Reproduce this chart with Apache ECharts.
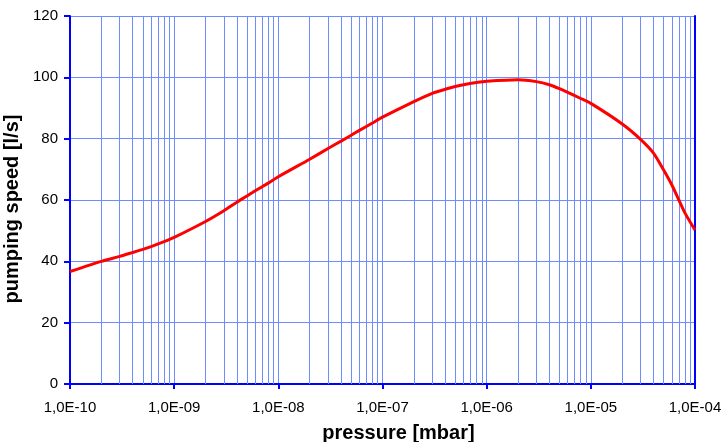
<!DOCTYPE html>
<html>
<head>
<meta charset="utf-8">
<script src="https://cdn.jsdelivr.net/npm/echarts@6/dist/echarts.min.js"></script>
<style>
  html, body { margin: 0; padding: 0; background: #fff; }
  #chart { width: 723px; height: 442px; }
</style>
</head>
<body>
<div id="chart"></div>
<script>
// pressure in mbar, pumping speed in l/s
var pressure = [1e-10, 2e-10, 3e-10, 4e-10, 5e-10, 6e-10, 8e-10,
  1e-9, 2e-9, 3e-9, 4e-9, 5e-9, 6e-9, 8e-9,
  1e-8, 2e-8, 3e-8, 4e-8, 5e-8, 6e-8, 8e-8,
  1e-7, 2e-7, 3e-7, 4e-7, 5e-7, 6e-7, 8e-7,
  1e-6, 2e-6, 3e-6, 4e-6, 5e-6, 6e-6, 8e-6,
  1e-5, 2e-5, 3e-5, 4e-5, 5e-5, 6e-5, 7e-5, 8e-5, 1e-4];
var speed = [36.7, 40.0, 41.6, 42.9, 43.9, 44.8, 46.4,
  47.8, 53.0, 56.5, 59.3, 61.3, 63.0, 65.5,
  67.6, 73.3, 76.8, 79.2, 81.1, 82.7, 85.1,
  87.0, 92.1, 94.8, 96.1, 97.0, 97.6, 98.3,
  98.7, 99.2, 98.6, 97.6, 96.3, 95.1, 93.1,
  91.5, 84.8, 79.8, 75.3, 69.8, 64.9, 60.0, 55.8, 50.2];
var xTicks = [1e-10, 1e-9, 1e-8, 1e-7, 1e-6, 1e-5, 1e-4];

// minor grid lines between decades (2..9 x 10^n)
var minorGrid = [];
for (var i = 0; i < xTicks.length - 1; i++) {
  for (var m = 2; m <= 9; m++) minorGrid.push(m * xTicks[i]);
}

var chart = echarts.init(document.getElementById('chart'));
var gridColor = '#6f8cff';
var font = 'Liberation Sans, Arial, sans-serif';

var option = {
  animation: false,
  grid: { left: 70, right: 28, top: 16, bottom: 58, containLabel: false, outerBoundsMode: 'none' },
  xAxis: [{
    type: 'log',
    logBase: 10,
    min: xTicks[0],
    max: xTicks[xTicks.length - 1],
    name: 'pressure [mbar]',
    nameLocation: 'middle',
    nameGap: 39,
    nameTextStyle: {
      fontFamily: font, fontWeight: 'bold', fontSize: 20, color: '#000',
      padding: [0, 0, 0, 32]
    },
    axisLine: { lineStyle: { color: '#0000ff', width: 2 } },
    axisTick: { length: 5, lineStyle: { color: '#0000ff', width: 2 } },
    axisLabel: {
      fontFamily: font, fontSize: 15, color: '#000', margin: 16,
      formatter: function (v) {
        var ex = Math.round(Math.log10(v));
        var s = String(Math.abs(ex));
        if (s.length < 2) s = '0' + s;
        return '1,0E' + (ex < 0 ? '-' : '+') + s;
      }
    },
    splitLine: { show: true, lineStyle: { color: gridColor, width: 1 } }
  }, {
    // top frame
    type: 'log',
    logBase: 10,
    min: xTicks[0],
    max: xTicks[xTicks.length - 1],
    position: 'top',
    axisLine: { show: true, lineStyle: { color: '#0000ff', width: 2 } },
    axisTick: { show: false },
    axisLabel: { show: false },
    splitLine: { show: false }
  }],
  yAxis: [{
    type: 'value',
    min: 0,
    max: 120,
    interval: 20,
    name: 'pumping speed [l/s]',
    nameLocation: 'middle',
    nameGap: 41,
    nameTextStyle: {
      fontFamily: font, fontWeight: 'bold', fontSize: 20, color: '#000',
      padding: [0, 18, 0, 0]
    },
    axisLine: { show: true, lineStyle: { color: '#0000ff', width: 2 } },
    axisTick: { show: true, length: 6, lineStyle: { color: '#0000ff', width: 2 } },
    axisLabel: { fontFamily: font, fontSize: 15, color: '#000', margin: 12 },
    splitLine: { show: true, lineStyle: { color: gridColor, width: 1 } }
  }, {
    // right frame
    type: 'value',
    min: 0,
    max: 120,
    position: 'right',
    axisLine: { show: true, lineStyle: { color: '#0000ff', width: 2 } },
    axisTick: { show: false },
    axisLabel: { show: false },
    splitLine: { show: false }
  }],
  series: [
    {
      type: 'lines',
      coordinateSystem: 'cartesian2d',
      silent: true,
      z: 1,
      lineStyle: { color: gridColor, width: 1, opacity: 1 },
      data: minorGrid.map(function (v) { return { coords: [[v, 0], [v, 120]] }; })
    },
    {
      type: 'line',
      data: pressure.map(function (p, i) { return [p, speed[i]]; }),
      smooth: 0.2,
      showSymbol: false,
      lineStyle: { color: '#ff0000', width: 3 },
      z: 5
    }
  ]
};
chart.setOption(option);
</script>
</body>
</html>
